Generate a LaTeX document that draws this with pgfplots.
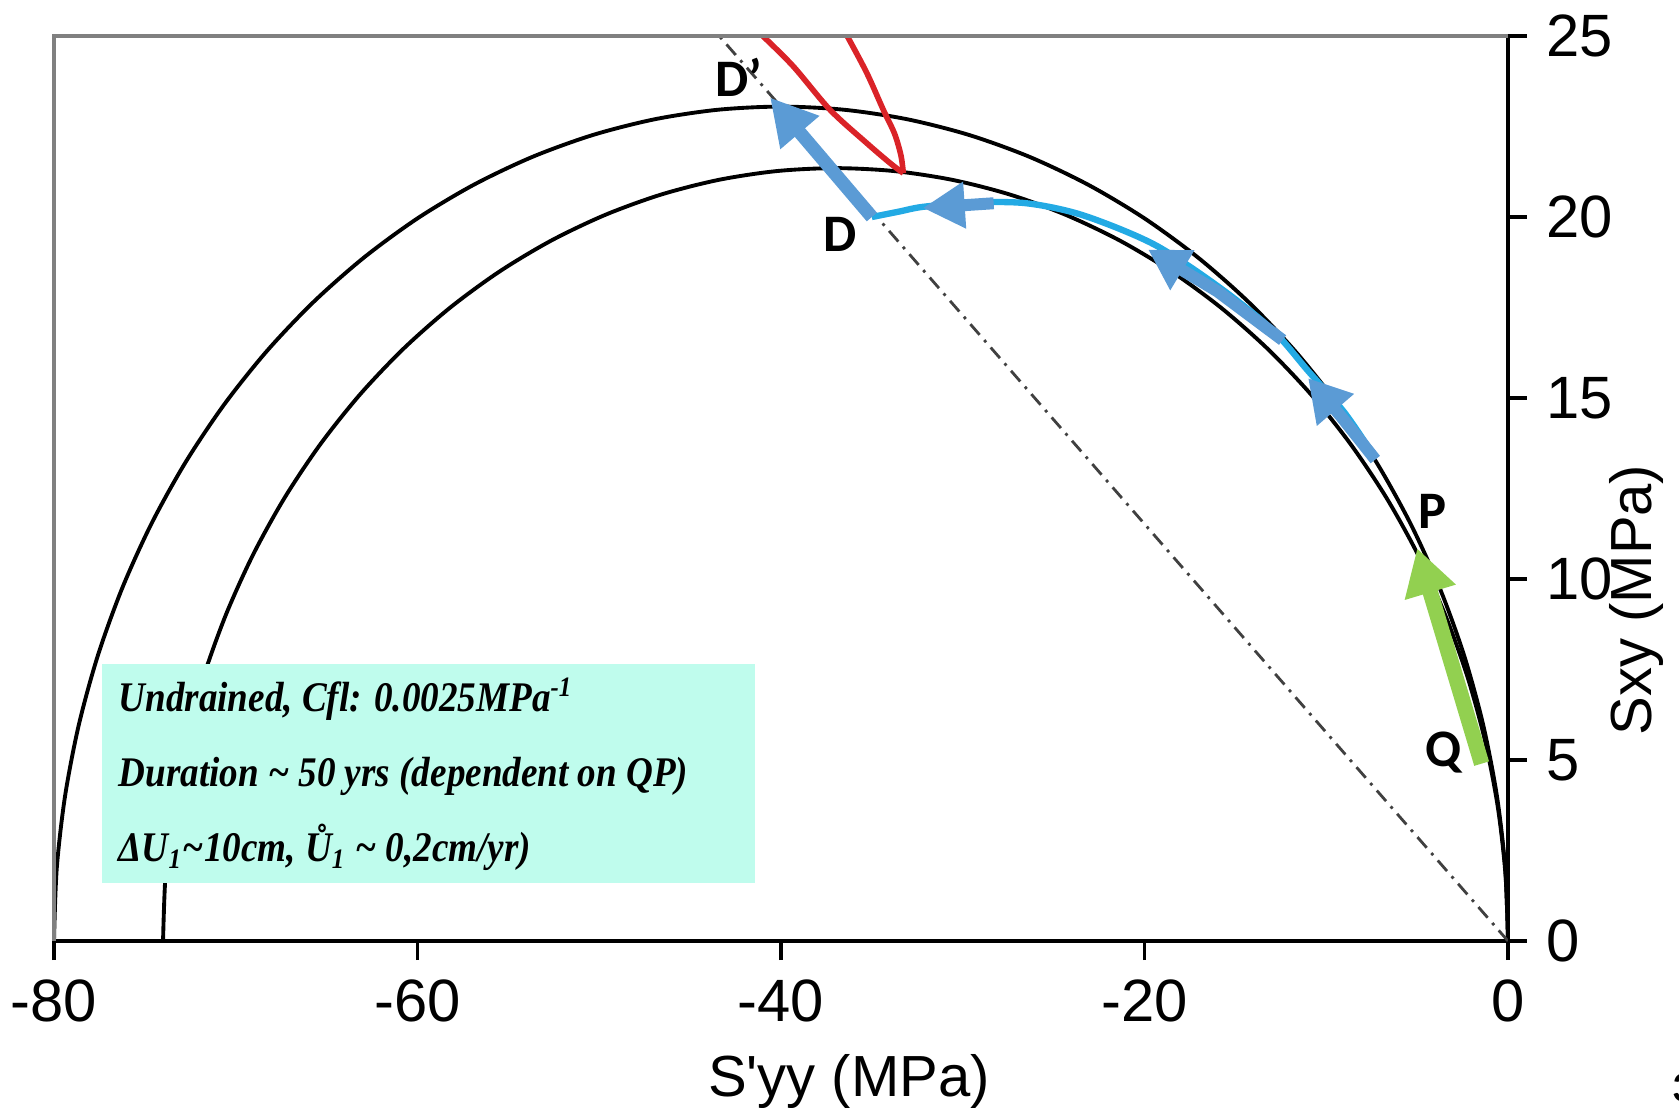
\documentclass[border=0pt]{standalone}
\usepackage{fontspec}
\setmainfont{Liberation Sans}
\newfontfamily\tnr{Liberation Serif}[FakeStretch=0.88]
\newfontfamily\calibri{Carlito}
\usepackage{pgfplots}
\pgfplotsset{compat=1.18}
\usetikzlibrary{arrows.meta}

\definecolor{boxmint}{RGB}{191,252,237}
\definecolor{pathcyan}{RGB}{35,170,228}
\definecolor{arrowblue}{RGB}{91,155,213}
\definecolor{arrowgreen}{RGB}{146,208,80}
\definecolor{curvered}{RGB}{218,35,40}
\definecolor{framegray}{RGB}{128,128,128}

\begin{document}
\begin{tikzpicture}
\begin{axis}[
    name=ax,
    scale only axis,
    width=14.54cm,
    height=9.05cm,
    xmin=-80, xmax=0,
    ymin=0, ymax=25,
    axis x line*=bottom,
    axis y line*=right,
    axis line style={-, black, line width=1pt},
    xtick={-80,-60,-40,-20,0},
    xticklabels={-80,-60,-40,-20,0},
    ytick={0,5,10,15,20,25},
    yticklabels={0,5,10,15,20,25},
    tick align=outside,
    major tick length=0.19cm,
    tick style={black, line width=1pt},
    tick label style={font=\fontsize{17}{20}\selectfont},
    xticklabel shift=2pt,
    yticklabel shift=2pt,
]

% outer envelope
\addplot[black, line width=1.1pt, smooth] coordinates {
    (0,0) (-0.152,2.009) (-0.608,4.003) (-1.363,5.966) (-2.412,7.884)
    (-3.748,9.741) (-5.359,11.525) (-7.234,13.221) (-9.358,14.816)
    (-11.716,16.299) (-14.288,17.657) (-17.057,18.881) (-20,19.962)
    (-23.095,20.890) (-26.319,21.660) (-29.647,22.265) (-33.054,22.700)
    (-36.514,22.962) (-40,23.05) (-43.486,22.962) (-46.946,22.700)
    (-50.353,22.265) (-53.681,21.660) (-56.905,20.890) (-60,19.962)
    (-62.943,18.881) (-65.712,17.657) (-68.284,16.299) (-70.642,14.816)
    (-72.766,13.221) (-74.641,11.525) (-76.252,9.741) (-77.588,7.884)
    (-78.637,5.966) (-79.392,4.003) (-79.848,2.009) (-80,0)
};

% inner envelope
\addplot[black, line width=1.1pt, smooth] coordinates {
    (0,0) (-0.141,1.861) (-0.562,3.707) (-1.261,5.526) (-2.231,7.302)
    (-3.467,9.023) (-4.957,10.675) (-6.691,12.246) (-8.657,13.724)
    (-10.837,15.097) (-13.217,16.355) (-15.778,17.489) (-18.5,18.490)
    (-21.363,19.350) (-24.345,20.062) (-27.424,20.623) (-30.575,21.026)
    (-33.775,21.269) (-37,21.35) (-40.225,21.269) (-43.425,21.026)
    (-46.576,20.623) (-49.655,20.062) (-52.637,19.350) (-55.5,18.490)
    (-58.222,17.489) (-60.783,16.355) (-63.163,15.097) (-65.343,13.724)
    (-67.309,12.246) (-69.043,10.675) (-70.533,9.023) (-71.769,7.302)
    (-72.739,5.526) (-73.438,3.707) (-73.859,1.861) (-74,0)
};

% line through origin and D
\addplot[black!75, line width=0.8pt, dash pattern=on 4pt off 2pt on 0.8pt off 2pt]
    coordinates {(0,0) (-43.4,25)};

% red curve
\addplot[curvered, line width=1.6pt, smooth] coordinates {
    (-42.05,25.5) (-41.06,25.03) (-39.32,24.16) (-37.30,22.96)
    (-35.28,22.04) (-34.0,21.49) (-33.27,21.21)
};
\addplot[curvered, line width=1.6pt, smooth] coordinates {
    (-33.27,21.21) (-33.4,21.7) (-33.75,22.3) (-34.37,22.96)
    (-35.28,23.98) (-36.39,25.03) (-36.91,25.5)
};

% stress path P -> D
\addplot[pathcyan, line width=1.8pt, smooth] coordinates {
    (-7.3,13.35) (-9,14.6) (-11,15.75) (-13,16.9) (-16,18.1)
    (-19.5,19.25) (-23.4,20.05) (-26.5,20.38) (-29.5,20.4)
    (-32.2,20.28) (-33.5,20.15) (-35.0,20.0)
};
\addplot[arrowblue, line width=3.4pt, -{Triangle[length=0.42cm, width=0.46cm]}]
    coordinates {(-7.3,13.3) (-9.2,14.5) (-11.0,15.55)};
\addplot[arrowblue, line width=3.4pt, -{Triangle[length=0.40cm, width=0.44cm]}]
    coordinates {(-12.4,16.6) (-16,17.95) (-19.8,19.1)};
\addplot[arrowblue, line width=3.4pt, -{Triangle[length=0.42cm, width=0.44cm]}]
    coordinates {(-28.3,20.38) (-32.2,20.25)};
\addplot[arrowblue, line width=3.8pt, -{Triangle[length=0.46cm, width=0.48cm]}]
    coordinates {(-35.0,20.0) (-40.6,23.3)};

% Q -> P
\addplot[arrowgreen, line width=4.4pt, -{Triangle[length=0.46cm, width=0.50cm]}]
    coordinates {(-1.45,4.9) (-5.0,10.85)};

% point labels
\node[font=\calibri\bfseries\fontsize{15}{18}\selectfont] at (axis cs:-42.32,23.87) {D’};
\node[font=\calibri\bfseries\fontsize{15}{18}\selectfont] at (axis cs:-36.72,19.52) {D};
\node[font=\calibri\bfseries\fontsize{15}{18}\selectfont] at (axis cs:-4.14,11.86) {P};
\node[font=\calibri\bfseries\fontsize{15}{18}\selectfont] at (axis cs:-3.55,5.2) {Q};

% note box
\fill[boxmint] (axis cs:-77.36,1.603) rectangle (axis cs:-41.43,7.654);
\node[anchor=base west, inner sep=0, font=\tnr\bfseries\itshape\fontsize{12}{14}\selectfont]
    at (axis cs:-76.48,6.33) {Undrained, Cfl: 0.0025MPa\textsuperscript{-1}};
\node[anchor=base west, inner sep=0, font=\tnr\bfseries\itshape\fontsize{12}{14}\selectfont]
    at (axis cs:-76.48,4.255) {Duration \textasciitilde{} 50 yrs (dependent on QP)};
\node[anchor=base west, inner sep=0, font=\tnr\bfseries\itshape\fontsize{12}{14}\selectfont]
    at (axis cs:-76.48,2.183) {ΔU\textsubscript{1}\textasciitilde10cm, Ů\textsubscript{1} \textasciitilde{} 0,2cm/yr)};

\end{axis}

% gray frame on top and left
\draw[framegray, line width=1.2pt] (ax.south west) -- (ax.north west) -- (ax.north east);

% axis titles
\node[anchor=base, font=\fontsize{16.5}{20}\selectfont] at (7.95,-1.56) {S\textquotesingle yy (MPa)};
\node[rotate=90, font=\fontsize{16.5}{20}\selectfont] at (15.82,3.41) {Sxy (MPa)};

% page number, cut by the page edge as in the source
\node[anchor=base west, inner sep=0, font=\calibri\bfseries\fontsize{12}{14}\selectfont] at (16.18,-1.61) {3};

\pgfresetboundingbox
\path[use as bounding box] (-0.54,-1.67) rectangle (16.25,9.41);
\end{tikzpicture}
\end{document}
